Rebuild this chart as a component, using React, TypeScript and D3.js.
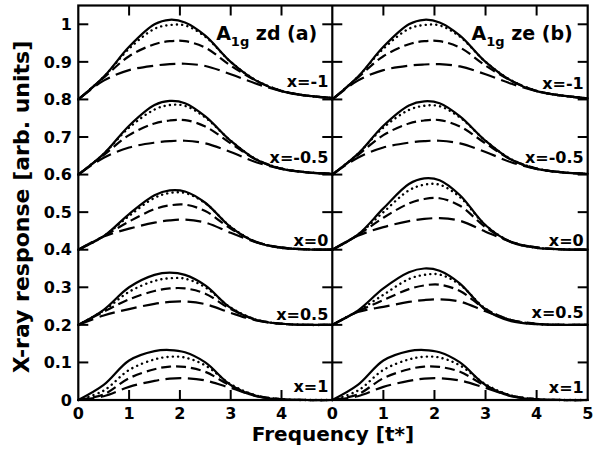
import React from "react";
import * as d3 from "d3";

const FREQ = [0, 0.5, 1, 1.5, 1.8, 2.1, 2.5, 3, 3.5, 4, 4.5, 5];
const DOPING = ["x=-1", "x=-0.5", "x=0", "x=0.5", "x=1"];
const OFFSETS = [0.8, 0.6, 0.4, 0.2, 0];
const Y_TICKS = [0, 0.1, 0.2, 0.3, 0.4, 0.5, 0.6, 0.7, 0.8, 0.9, 1];
const Y_TICK_LABELS = ["0", "0.1", "0.2", "0.3", "0.4", "0.5", "0.6", "0.7", "0.8", "0.9", "1"];
const X_TICKS = [0, 1, 2, 3, 4, 5];
const PANEL_TITLES = [["A", "1g", " zd (a)"], ["A", "1g", " ze (b)"]];

// Panel (a): response above each offset, one row per doping
const A_SOLID = [
  [0, 0.06, 0.14, 0.2, 0.212, 0.205, 0.17, 0.1, 0.05, 0.022, 0.01, 0.004],
  [0, 0.055, 0.13, 0.185, 0.196, 0.19, 0.155, 0.09, 0.04, 0.015, 0.006, 0.002],
  [0, 0.036, 0.095, 0.145, 0.158, 0.155, 0.125, 0.06, 0.02, 0.005, 0.001, 0],
  [0, 0.04, 0.1, 0.133, 0.139, 0.133, 0.105, 0.045, 0.013, 0.003, 0, 0],
  [0, 0.04, 0.105, 0.13, 0.133, 0.127, 0.1, 0.04, 0.01, 0.002, 0, 0],
];
const A_DOTTED = [
  [0, 0.06, 0.135, 0.188, 0.198, 0.197, 0.167, 0.1, 0.051, 0.023, 0.01, 0.004],
  [0, 0.055, 0.125, 0.173, 0.185, 0.183, 0.152, 0.09, 0.041, 0.016, 0.006, 0.002],
  [0, 0.036, 0.09, 0.138, 0.151, 0.151, 0.124, 0.061, 0.021, 0.005, 0.001, 0],
  [0, 0.038, 0.088, 0.117, 0.124, 0.123, 0.1, 0.046, 0.014, 0.003, 0, 0],
  [0, 0.025, 0.08, 0.108, 0.115, 0.113, 0.092, 0.042, 0.012, 0.002, 0, 0],
];
const A_DASHED = [
  [0, 0.058, 0.115, 0.147, 0.155, 0.155, 0.138, 0.09, 0.05, 0.023, 0.01, 0.004],
  [0, 0.052, 0.105, 0.136, 0.144, 0.145, 0.128, 0.083, 0.04, 0.016, 0.006, 0.002],
  [0, 0.036, 0.075, 0.108, 0.118, 0.12, 0.103, 0.056, 0.021, 0.006, 0.001, 0],
  [0, 0.035, 0.068, 0.09, 0.097, 0.097, 0.083, 0.042, 0.014, 0.003, 0, 0],
  [0, 0.015, 0.058, 0.082, 0.089, 0.088, 0.075, 0.038, 0.012, 0.002, 0, 0],
];
const A_LONGDASH = [
  [0, 0.05, 0.078, 0.09, 0.094, 0.095, 0.089, 0.067, 0.042, 0.022, 0.01, 0.004],
  [0, 0.045, 0.072, 0.085, 0.089, 0.09, 0.083, 0.06, 0.033, 0.015, 0.006, 0.002],
  [0, 0.035, 0.056, 0.072, 0.078, 0.08, 0.072, 0.045, 0.02, 0.006, 0.001, 0],
  [0, 0.025, 0.042, 0.056, 0.061, 0.062, 0.055, 0.032, 0.012, 0.003, 0, 0],
  [0, 0.01, 0.035, 0.051, 0.057, 0.058, 0.052, 0.032, 0.011, 0.002, 0, 0],
];

// Panel (b)
const B_SOLID = [
  [0, 0.06, 0.14, 0.2, 0.212, 0.205, 0.17, 0.1, 0.05, 0.022, 0.01, 0.003],
  [0, 0.055, 0.13, 0.184, 0.195, 0.19, 0.155, 0.09, 0.04, 0.015, 0.006, 0.002],
  [0, 0.04, 0.11, 0.175, 0.19, 0.185, 0.145, 0.065, 0.02, 0.005, 0.001, 0],
  [0, 0.038, 0.097, 0.14, 0.15, 0.144, 0.11, 0.04, 0.01, 0.002, 0, 0],
  [0, 0.04, 0.105, 0.13, 0.133, 0.127, 0.1, 0.04, 0.01, 0.002, 0, 0],
];
const B_DOTTED = [
  [0, 0.06, 0.135, 0.188, 0.198, 0.197, 0.167, 0.1, 0.051, 0.023, 0.01, 0.003],
  [0, 0.055, 0.125, 0.172, 0.183, 0.182, 0.152, 0.09, 0.041, 0.016, 0.006, 0.002],
  [0, 0.04, 0.1, 0.158, 0.173, 0.173, 0.14, 0.065, 0.021, 0.005, 0.001, 0],
  [0, 0.037, 0.08, 0.122, 0.133, 0.134, 0.107, 0.043, 0.012, 0.002, 0, 0],
  [0, 0.025, 0.08, 0.108, 0.115, 0.113, 0.092, 0.042, 0.012, 0.002, 0, 0],
];
const B_DASHED = [
  [0, 0.058, 0.115, 0.147, 0.155, 0.155, 0.138, 0.09, 0.05, 0.023, 0.01, 0.003],
  [0, 0.052, 0.105, 0.136, 0.144, 0.145, 0.128, 0.083, 0.04, 0.016, 0.006, 0.002],
  [0, 0.039, 0.085, 0.123, 0.135, 0.137, 0.117, 0.06, 0.021, 0.006, 0.001, 0],
  [0, 0.036, 0.066, 0.095, 0.105, 0.107, 0.09, 0.042, 0.013, 0.003, 0, 0],
  [0, 0.015, 0.058, 0.082, 0.089, 0.088, 0.075, 0.038, 0.012, 0.002, 0, 0],
];
const B_LONGDASH = [
  [0, 0.05, 0.078, 0.09, 0.093, 0.094, 0.088, 0.067, 0.042, 0.022, 0.01, 0.003],
  [0, 0.045, 0.072, 0.085, 0.089, 0.09, 0.083, 0.06, 0.033, 0.015, 0.006, 0.002],
  [0, 0.037, 0.06, 0.076, 0.082, 0.084, 0.077, 0.048, 0.021, 0.006, 0.001, 0],
  [0, 0.034, 0.048, 0.061, 0.066, 0.068, 0.062, 0.036, 0.013, 0.003, 0, 0],
  [0, 0.01, 0.035, 0.051, 0.057, 0.058, 0.052, 0.032, 0.011, 0.002, 0, 0],
];

const FONT = "'DejaVu Sans', sans-serif";
const W = 609;
const H = 453;
const LEFT = 78.3;
const MID = 332.3;
const RIGHT = 587.7;
const TOP = 5.5;
const BOTTOM = 400;
const TICK = 10;
const LABEL_BASELINES = [[87, 163, 246, 320, 392], [89, 163, 246, 318, 393]];

const STYLES = [
  { dash: "none", cap: "round" as const, width: 2.2 },
  { dash: "0.1 5.2", cap: "round" as const, width: 2.4 },
  { dash: "10 5", cap: "butt" as const, width: 2.2 },
  { dash: "16 6.5", cap: "butt" as const, width: 2.2 },
];

export default function App() {
  const y = d3.scaleLinear().domain([0, 1.05]).range([BOTTOM, TOP]);
  const panels = [
    { x: d3.scaleLinear().domain([0, 5]).range([LEFT, MID]), series: [A_SOLID, A_DOTTED, A_DASHED, A_LONGDASH], xt: X_TICKS.slice(0, 5) },
    { x: d3.scaleLinear().domain([0, 5]).range([MID, RIGHT]), series: [B_SOLID, B_DOTTED, B_DASHED, B_LONGDASH], xt: X_TICKS },
  ];

  return (
    <div style={{ position: "absolute", left: 0, top: 0 }}>
      <svg width={W} height={H} viewBox={`0 0 ${W} ${H}`} style={{ display: "block", background: "#fff" }}>
        {panels.map((p, pi) => {
          const line = (offset: number) =>
            d3
              .line<number>()
              .x((_, i) => p.x(FREQ[i]))
              .y((v) => y(v + offset))
              .curve(d3.curveCatmullRom.alpha(0.5));
          return (
            <g key={pi}>
              {OFFSETS.map((off, gi) => (
                <g key={gi}>
                  {p.series.map((s, si) => (
                    <path
                      key={si}
                      d={line(off)(s[gi]) || ""}
                      fill="none"
                      stroke="#000"
                      strokeWidth={STYLES[si].width}
                      strokeDasharray={STYLES[si].dash}
                      strokeLinecap={STYLES[si].cap}
                      strokeLinejoin="round"
                    />
                  ))}
                  <text
                    x={p.x(5) - 4}
                    y={LABEL_BASELINES[pi][gi]}
                    textAnchor="end"
                    fontFamily={FONT}
                    fontWeight="bold"
                    fontSize={16}
                  >
                    {DOPING[gi]}
                  </text>
                </g>
              ))}
              {X_TICKS.slice(1, 5).map((t) => (
                <g key={t} stroke="#000" strokeWidth={2}>
                  <line x1={p.x(t)} x2={p.x(t)} y1={BOTTOM} y2={BOTTOM - TICK} />
                  <line x1={p.x(t)} x2={p.x(t)} y1={TOP} y2={TOP + TICK} />
                </g>
              ))}
              {p.xt.map((t) => (
                <text
                  key={t}
                  x={p.x(t)}
                  y={419}
                  textAnchor="middle"
                  fontFamily={FONT}
                  fontWeight="bold"
                  fontSize={16}
                >
                  {t}
                </text>
              ))}
              <text
                x={p.x(5) - 15}
                y={40}
                textAnchor="end"
                fontFamily={FONT}
                fontWeight="bold"
                fontSize={19}
              >
                {PANEL_TITLES[pi][0]}
                <tspan fontSize={13} dy={6}>{PANEL_TITLES[pi][1]}</tspan>
                <tspan dy={-6}>{PANEL_TITLES[pi][2]}</tspan>
              </text>
            </g>
          );
        })}
        {Y_TICKS.slice(1).map((t) => (
          <g key={t} stroke="#000" strokeWidth={2}>
            <line x1={LEFT} x2={LEFT + TICK} y1={y(t)} y2={y(t)} />
            <line x1={MID - TICK} x2={MID + TICK} y1={y(t)} y2={y(t)} />
            <line x1={RIGHT - TICK} x2={RIGHT} y1={y(t)} y2={y(t)} />
          </g>
        ))}
        {Y_TICKS.map((t, i) => (
          <text
            key={t}
            x={72}
            y={y(t)}
            dy="0.36em"
            textAnchor="end"
            fontFamily={FONT}
            fontWeight="bold"
            fontSize={16}
          >
            {Y_TICK_LABELS[i]}
          </text>
        ))}
        <rect x={LEFT} y={TOP} width={RIGHT - LEFT} height={BOTTOM - TOP} fill="none" stroke="#000" strokeWidth={2.2} />
        <line x1={MID} x2={MID} y1={TOP} y2={BOTTOM} stroke="#000" strokeWidth={2.2} />
        <text
          x={(LEFT + RIGHT) / 2}
          y={441}
          textAnchor="middle"
          fontFamily={FONT}
          fontWeight="bold"
          fontSize={20}
        >
          Frequency [t*]
        </text>
        <text
          transform={`translate(29, 207) rotate(-90)`}
          textAnchor="middle"
          fontFamily={FONT}
          fontWeight="bold"
          fontSize={22}
        >
          X-ray response [arb. units]
        </text>
      </svg>
    </div>
  );
}
